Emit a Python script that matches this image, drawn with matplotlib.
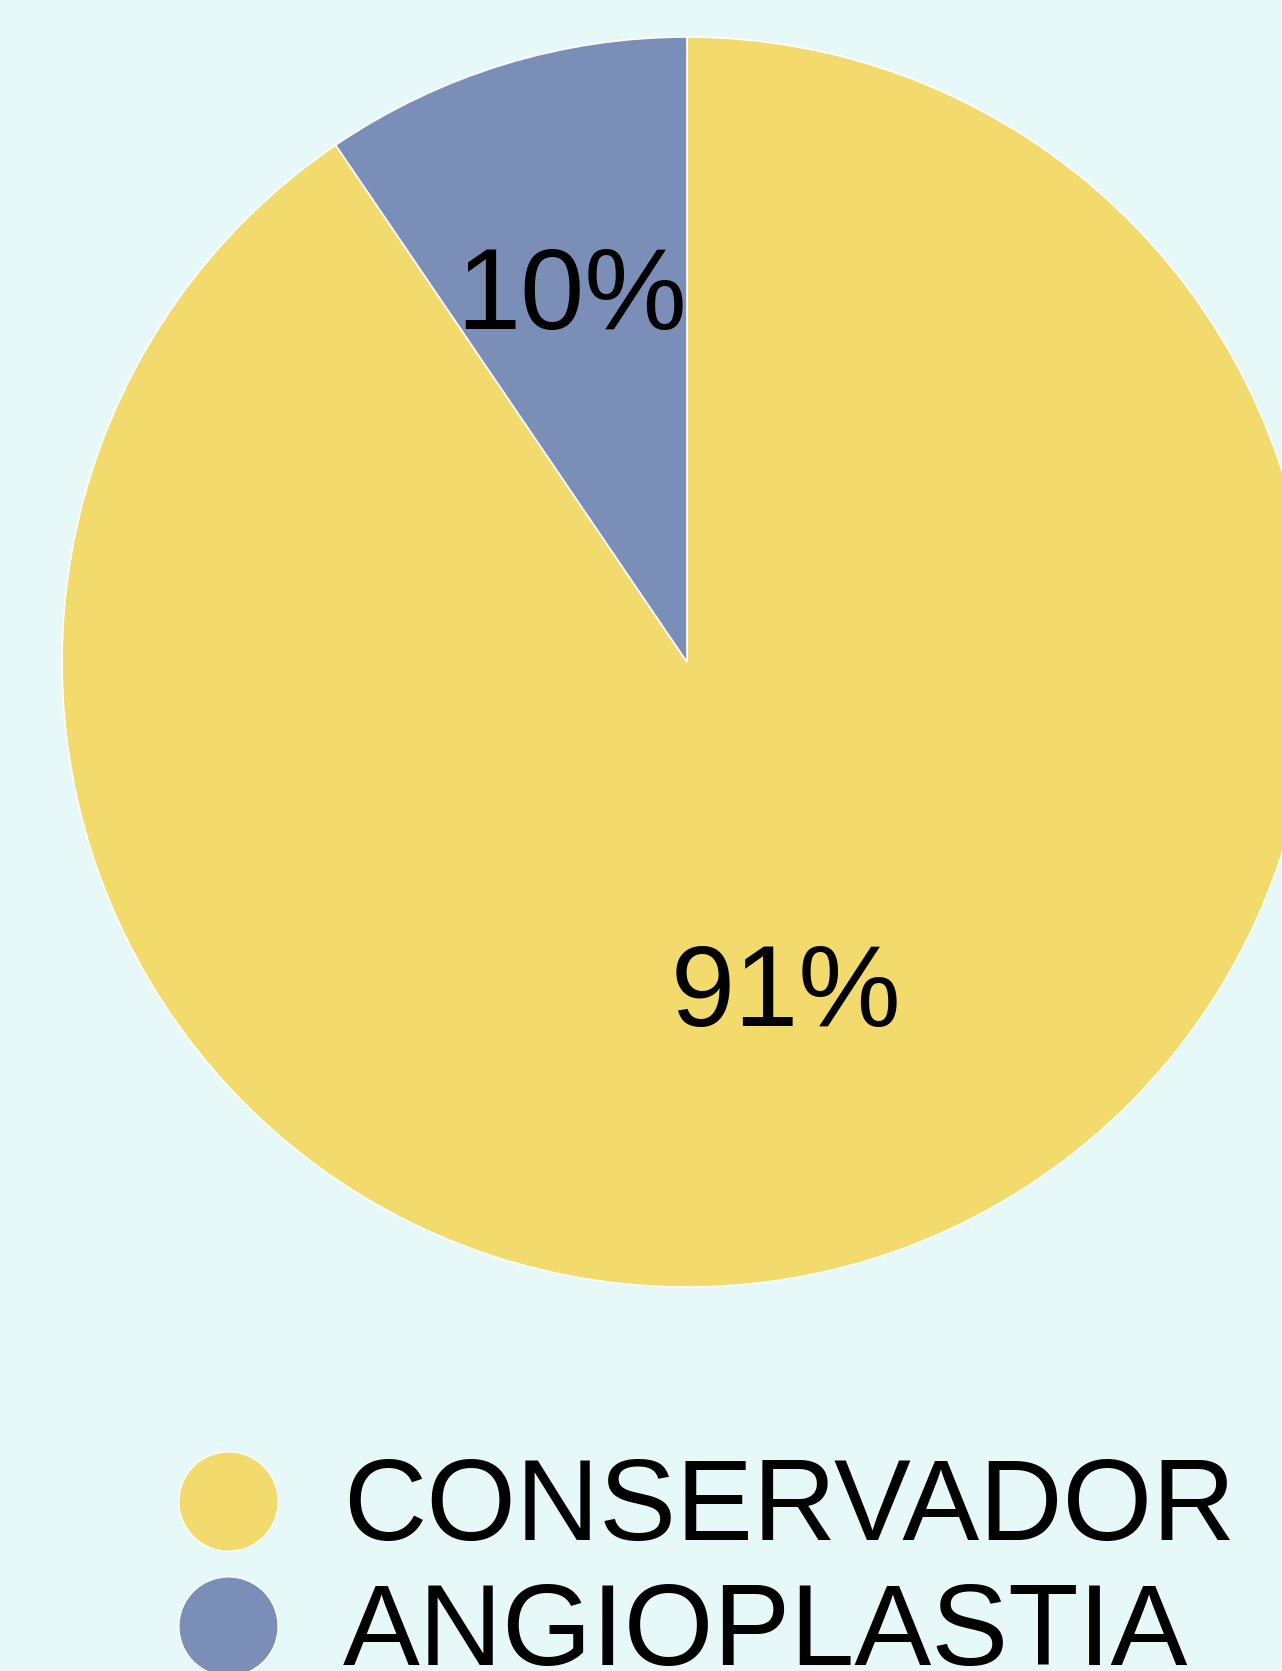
#!/usr/bin/env python3
"""Pie chart: conservador vs angioplastia."""
import numpy as np
import matplotlib
matplotlib.use("Agg")
import matplotlib.pyplot as plt

CATEGORIES = ["CONSERVADOR", "ANGIOPLASTIA"]
VALUES = [90.5, 9.5]
PCT_LABELS = ["91%", "10%"]
COLORS = ["#F3DA6D", "#7A8EB8"]
BG = "#E7F8F9"

plt.rcParams["font.family"] = ["Liberation Sans", "DejaVu Sans"]
FS = 83

W, H = 1282, 1671
fig = plt.figure(figsize=(W / 100, H / 100), dpi=100, facecolor=BG)
ax = fig.add_axes([0, 0, 1, 1])

cx, cy, r = 687, H - 662, 625
start = 90 + VALUES[1] / sum(VALUES) * 360
wedges, _ = ax.pie(VALUES, colors=COLORS, startangle=start, counterclock=True,
                   center=(cx, cy), radius=r, frame=True,
                   wedgeprops=dict(edgecolor="white", linewidth=1.2))
ax.set_xlim(0, W); ax.set_ylim(0, H)
ax.set_aspect("equal")
ax.axis("off")

# percentage labels at each wedge's mid-angle (baseline = centre - half cap height)
dists = [0.541, 0.626]
cap = FS * 100 / 72 * 0.716
for w, lbl, d in zip(wedges, PCT_LABELS, dists):
    mid = np.deg2rad((w.theta1 + w.theta2) / 2)
    ax.text(cx + d * r * np.cos(mid), cy + d * r * np.sin(mid) - cap / 2, lbl,
            fontsize=FS, ha="center", va="baseline", color="black")

# legend drawn by hand, big circles + labels
for k, (name, c) in enumerate(zip(CATEGORIES, COLORS)):
    y = H - 1501 - k * 125
    ax.scatter([228], [y], s=(99 * 0.72) ** 2, color=c, edgecolor="white",
               linewidth=0.8, zorder=3, clip_on=False)
    ax.text(343, y - 39, name, fontsize=FS, ha="left", va="baseline", color="black")

fig.savefig("out.png", dpi=100, facecolor=BG)
